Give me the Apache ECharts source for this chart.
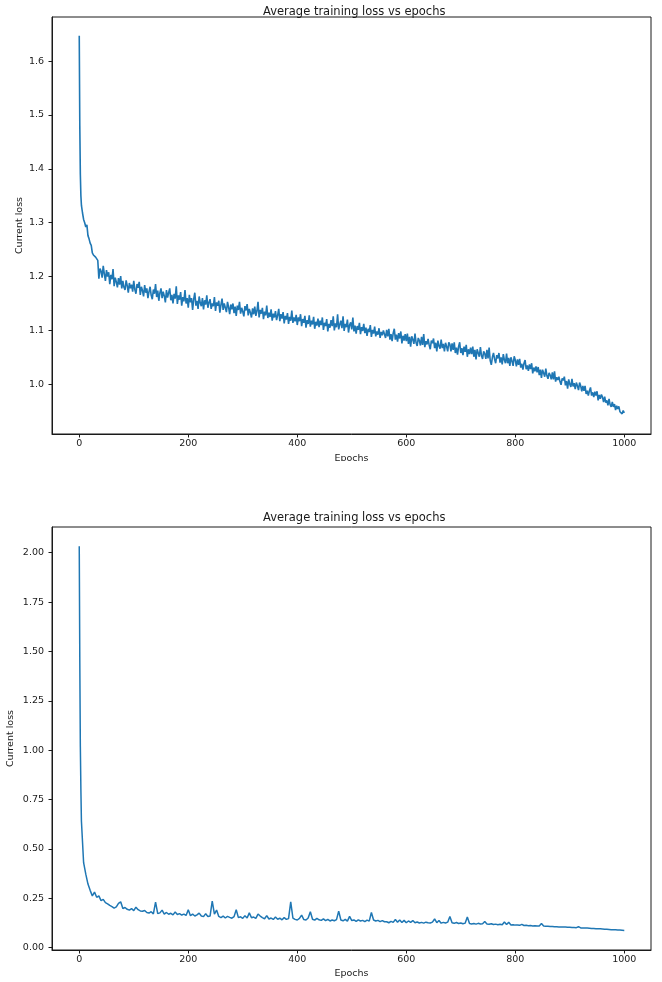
<!DOCTYPE html>
<html>
<head>
<meta charset="utf-8">
<script src="https://cdn.jsdelivr.net/npm/echarts@6/dist/echarts.min.js"></script>
<style>
  html, body { margin: 0; padding: 0; background: #fff; }
  #c1 { position: absolute; left: 0; top: 0; width: 662px; height: 461px; }
  #c2 { position: absolute; left: 0; top: 461px; width: 662px; height: 521px; }
</style>
</head>
<body>
<div id="c1"></div>
<div id="c2"></div>
<script>
// ---------- DATA ----------
const chartTitle = 'Average training loss vs epochs';
const xName = 'Epochs';
const yName = 'Current loss';
const xTicks = [0, 200, 400, 600, 800, 1000];
const yTicks1 = [1.0, 1.1, 1.2, 1.3, 1.4, 1.5, 1.6];
const yTicks2 = [0, 0.25, 0.5, 0.75, 1.0, 1.25, 1.5, 1.75, 2.0];

// first epochs read one by one, then one reading every `step` epochs from epoch 4 to 1000
const headEpochs = [0, 1, 2, 3];
const bodyStart = 4;
const step1 = 2;
const step2 = 4;

// run 1 (top chart)
const headLoss1 = [1.647, 1.48, 1.39, 1.35];
const loss1 = [
  1.332, 1.318, 1.306, 1.300, 1.292, 1.296, 1.276, 1.270, 1.262, 1.258,
  1.244, 1.240, 1.243, 1.236, 1.238, 1.230, 1.196, 1.215,
  1.210, 1.198, 1.220, 1.205, 1.192, 1.212, 1.200, 1.208, 1.186, 1.203, 1.195, 1.214, 1.182, 1.198, 1.190, 1.180, 1.197, 1.185, 1.201, 1.178,
  1.192, 1.180, 1.175, 1.193, 1.183, 1.170, 1.188, 1.178, 1.185, 1.172, 1.192, 1.176, 1.168, 1.186, 1.179, 1.190, 1.166, 1.181, 1.174, 1.163,
  1.184, 1.170, 1.178, 1.160, 1.172, 1.181, 1.165, 1.158, 1.176, 1.168, 1.186, 1.162, 1.174, 1.155, 1.170, 1.178, 1.160, 1.172, 1.164, 1.152,
  1.175, 1.161, 1.170, 1.178, 1.156, 1.166, 1.150, 1.168, 1.159, 1.182, 1.149, 1.165, 1.157, 1.171, 1.146, 1.162, 1.154, 1.175, 1.150, 1.160,
  1.142, 1.166, 1.152, 1.160, 1.138, 1.158, 1.170, 1.146, 1.155, 1.140, 1.163, 1.151, 1.145, 1.160, 1.139, 1.156, 1.148, 1.165, 1.142, 1.152,
  1.158, 1.140, 1.150, 1.145, 1.162, 1.136, 1.152, 1.146, 1.155, 1.133, 1.148, 1.159, 1.138, 1.150, 1.142, 1.134, 1.153, 1.143, 1.130, 1.148,
  1.139, 1.150, 1.132, 1.144, 1.127, 1.146, 1.138, 1.153, 1.131, 1.142, 1.135, 1.126, 1.145, 1.137, 1.149, 1.128, 1.140, 1.133, 1.124, 1.141,
  1.130, 1.144, 1.127, 1.136, 1.153, 1.124, 1.138, 1.131, 1.142, 1.121, 1.135, 1.128, 1.146, 1.123, 1.133, 1.125, 1.139, 1.118, 1.131, 1.124,
  1.136, 1.119, 1.128, 1.140, 1.117, 1.130, 1.122, 1.134, 1.113, 1.127, 1.120, 1.132, 1.112, 1.125, 1.118, 1.137, 1.114, 1.124, 1.117, 1.129,
  1.110, 1.124, 1.117, 1.130, 1.108, 1.121, 1.114, 1.127, 1.105, 1.119, 1.112, 1.128, 1.107, 1.118, 1.111, 1.125, 1.103, 1.116, 1.109, 1.122,
  1.106, 1.118, 1.110, 1.124, 1.101, 1.114, 1.108, 1.121, 1.098, 1.112, 1.105, 1.119, 1.108, 1.126, 1.100, 1.113, 1.106, 1.130, 1.102, 1.111,
  1.118, 1.104, 1.126, 1.099, 1.112, 1.106, 1.120, 1.096, 1.110, 1.115, 1.102, 1.124, 1.098, 1.109, 1.094, 1.108, 1.101, 1.114, 1.093, 1.106,
  1.099, 1.112, 1.095, 1.105, 1.090, 1.103, 1.097, 1.110, 1.088, 1.101, 1.094, 1.107, 1.089, 1.098, 1.092, 1.104, 1.086, 1.097, 1.091, 1.100,
  1.099, 1.086, 1.101, 1.089, 1.103, 1.083, 1.093, 1.080, 1.095, 1.103, 1.083, 1.092, 1.079, 1.095, 1.085, 1.098, 1.076, 1.090, 1.081, 1.093,
  1.080, 1.094, 1.075, 1.088, 1.070, 1.089, 1.083, 1.075, 1.094, 1.077, 1.071, 1.086, 1.081, 1.072, 1.088, 1.073, 1.093, 1.069, 1.080, 1.074,
  1.084, 1.073, 1.065, 1.081, 1.076, 1.085, 1.067, 1.077, 1.061, 1.081, 1.071, 1.066, 1.083, 1.067, 1.075, 1.061, 1.077, 1.070, 1.061, 1.078,
  1.074, 1.061, 1.076, 1.064, 1.078, 1.058, 1.068, 1.055, 1.070, 1.078, 1.058, 1.067, 1.054, 1.070, 1.060, 1.073, 1.051, 1.065, 1.056, 1.068,
  1.056, 1.070, 1.051, 1.064, 1.046, 1.065, 1.058, 1.051, 1.069, 1.053, 1.047, 1.061, 1.057, 1.047, 1.064, 1.048, 1.068, 1.044, 1.036, 1.050,
  1.058, 1.047, 1.039, 1.054, 1.048, 1.058, 1.040, 1.050, 1.037, 1.056, 1.045, 1.039, 1.057, 1.039, 1.049, 1.034, 1.050, 1.043, 1.034, 1.052,
  1.045, 1.033, 1.046, 1.036, 1.047, 1.031, 1.038, 1.027, 1.039, 1.045, 1.028, 1.035, 1.025, 1.037, 1.028, 1.039, 1.020, 1.031, 1.024, 1.033,
  1.022, 1.032, 1.017, 1.027, 1.012, 1.027, 1.021, 1.014, 1.029, 1.016, 1.010, 1.021, 1.017, 1.009, 1.022, 1.009, 1.024, 1.005, 1.013, 1.008,
  1.014, 1.005, 0.999, 1.011, 1.007, 1.014, 0.998, 1.006, 0.992, 1.009, 1.000, 0.995, 1.010, 0.996, 1.002, 0.991, 1.003, 0.997, 0.989, 1.003,
  0.997, 0.987, 0.997, 0.988, 0.997, 0.982, 0.988, 0.979, 0.988, 0.994, 0.979, 0.985, 0.976, 0.986, 0.979, 0.987, 0.970, 0.980, 0.973, 0.981,
  0.976, 0.967, 0.977, 0.966, 0.970, 0.961, 0.973, 0.962, 0.958, 0.967, 0.958, 0.963, 0.952, 0.960, 0.954, 0.959, 0.949, 0.951, 0.945, 0.951,
  0.947
];

// run 2 (bottom chart)
const headLoss2 = [2.032, 1.45, 1.02, 0.80];
const loss2 = [
  0.640, 0.430, 0.372, 0.322, 0.290, 0.262, 0.281, 0.255, 0.262, 0.238,
  0.244, 0.228, 0.222, 0.214, 0.208, 0.200, 0.206, 0.224, 0.232, 0.198,
  0.203, 0.194, 0.190, 0.198, 0.187, 0.205, 0.192, 0.186, 0.184, 0.188,
  0.178, 0.175, 0.182, 0.171, 0.230, 0.172, 0.176, 0.190, 0.170, 0.178,
  0.169, 0.174, 0.166, 0.180, 0.168, 0.172, 0.165, 0.170, 0.163, 0.192,
  0.162, 0.170, 0.160, 0.166, 0.175, 0.160, 0.157, 0.172, 0.158, 0.160,
  0.236, 0.170, 0.190, 0.158, 0.152, 0.160, 0.150, 0.158, 0.153, 0.149,
  0.157, 0.192, 0.152, 0.156, 0.148, 0.162, 0.150, 0.176, 0.151, 0.155,
  0.148, 0.170, 0.160, 0.152, 0.146, 0.162, 0.145, 0.150, 0.143, 0.155,
  0.144, 0.149, 0.141, 0.152, 0.143, 0.147, 0.232, 0.150, 0.143, 0.140,
  0.148, 0.165, 0.142, 0.140, 0.150, 0.182, 0.144, 0.139, 0.148, 0.141,
  0.138, 0.146, 0.137, 0.143, 0.135, 0.140, 0.136, 0.142, 0.185, 0.140,
  0.136, 0.143, 0.134, 0.158, 0.137, 0.140, 0.133, 0.141, 0.135, 0.138,
  0.132, 0.139, 0.134, 0.178, 0.140, 0.135, 0.138, 0.132, 0.137, 0.131,
  0.131, 0.126, 0.133, 0.128, 0.142, 0.129, 0.140, 0.127, 0.138, 0.126,
  0.135, 0.128, 0.137, 0.126, 0.130, 0.125, 0.128, 0.124, 0.129, 0.126,
  0.125, 0.129, 0.145, 0.126, 0.137, 0.124, 0.128, 0.125, 0.129, 0.158,
  0.126, 0.123, 0.127, 0.122, 0.125, 0.121, 0.124, 0.155, 0.122, 0.120,
  0.122, 0.119, 0.123, 0.120, 0.121, 0.132, 0.120, 0.118, 0.121, 0.117,
  0.119, 0.116, 0.118, 0.116, 0.130, 0.117, 0.128, 0.115, 0.116, 0.114,
  0.115, 0.113, 0.118, 0.112, 0.113, 0.111, 0.112, 0.110, 0.111, 0.109,
  0.110, 0.122, 0.109, 0.108, 0.108, 0.107, 0.107, 0.106, 0.106, 0.105,
  0.105, 0.104, 0.104, 0.103, 0.103, 0.102, 0.102, 0.101, 0.106, 0.100,
  0.100, 0.099, 0.099, 0.098, 0.097, 0.097, 0.096, 0.095, 0.095, 0.094,
  0.093, 0.093, 0.092, 0.091, 0.091, 0.090, 0.089, 0.089, 0.088, 0.087
];

// ---------- BUILD ----------
function pairs(head, body, step) {
  const out = headEpochs.map((e, i) => [e, head[i]]);
  body.forEach((v, i) => out.push([bodyStart + i * step, v]));
  return out;
}

const FONT = 'DejaVu Sans';
const INK = '#1a1a1a';
const LINE = '#1f77b4';

function makeOption(cfg) {
  return {
    animation: false,
    backgroundColor: '#fff',
    title: {
      text: chartTitle,
      left: 258,
      top: cfg.titleTop,
      textStyle: { fontFamily: FONT, fontSize: 11.5, fontWeight: 'normal', color: INK }
    },
    grid: {
      left: 52, right: 11, top: cfg.gridTop, height: cfg.gridHeight,
      show: true, borderColor: INK, borderWidth: 1, containLabel: false,
      outerBoundsMode: 'none'
    },
    xAxis: {
      type: 'value',
      min: -50, max: 1049,
      name: xName, nameLocation: 'middle', nameGap: cfg.xNameGap, nameMoveOverlap: false,
      nameTextStyle: { fontFamily: FONT, fontSize: 9.5, color: INK },
      axisLine: { show: true, onZero: false, lineStyle: { color: INK, width: 1 } },
      axisTick: { show: true, length: 3.5, lineStyle: { color: INK }, customValues: xTicks },
      axisLabel: { show: true, margin: 5, fontFamily: FONT, fontSize: 9.5, color: INK, customValues: xTicks,
                   formatter: v => String(Math.round(v)) },
      splitLine: { show: false }
    },
    yAxis: {
      type: 'value',
      min: cfg.yMin, max: cfg.yMax,
      name: yName, nameLocation: 'middle', nameGap: cfg.yNameGap, nameRotate: 90, nameMoveOverlap: false,
      nameTextStyle: { fontFamily: FONT, fontSize: 9.5, color: INK },
      axisLine: { show: true, onZero: false, lineStyle: { color: INK, width: 1 } },
      axisTick: { show: true, length: 3.5, lineStyle: { color: INK }, customValues: cfg.yTicks },
      axisLabel: { show: true, margin: 8, fontFamily: FONT, fontSize: 9.5, color: INK, customValues: cfg.yTicks,
                   formatter: v => v.toFixed(cfg.decimals) },
      splitLine: { show: false }
    },
    series: [{
      type: 'line',
      data: cfg.data,
      showSymbol: false,
      symbol: 'none',
      lineStyle: { color: LINE, width: cfg.lineWidth },
      itemStyle: { color: LINE }
    }]
  };
}

const c1 = echarts.init(document.getElementById('c1'), null, { renderer: 'canvas' });
c1.setOption(makeOption({
  titleTop: 1, gridTop: 17, gridHeight: 417, xNameGap: 20,
  yMin: 0.9076, yMax: 1.682, yTicks: yTicks1, decimals: 1, yNameGap: 27, lineWidth: 1.6,
  data: pairs(headLoss1, loss1, step1)
}));

const c2 = echarts.init(document.getElementById('c2'), null, { renderer: 'canvas' });
c2.setOption(makeOption({
  titleTop: 46, gridTop: 66, gridHeight: 423, xNameGap: 19,
  yMin: -0.012, yMax: 2.13, yTicks: yTicks2, decimals: 2, yNameGap: 36, lineWidth: 1.5,
  data: pairs(headLoss2, loss2, step2)
}));
</script>
</body>
</html>
